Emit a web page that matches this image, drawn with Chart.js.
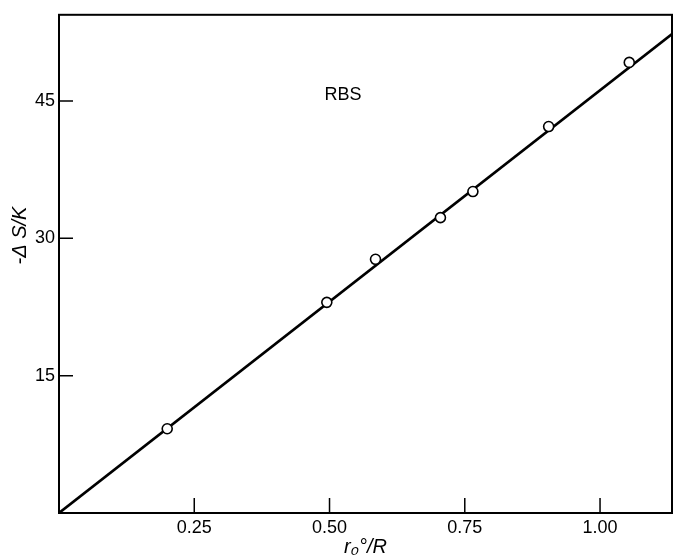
<!DOCTYPE html>
<html>
<head>
<meta charset="utf-8">
<title>RBS</title>
<script src="https://cdn.jsdelivr.net/npm/chart.js@4/dist/chart.umd.min.js"></script>
<style>
    html, body { margin: 0; padding: 0; background: #fff; }
    #wrap { width: 679px; height: 559px; }
</style>
</head>
<body>
<div id="wrap"><canvas id="chart"></canvas></div>
<script>
// Measured points (r0°/R, -ΔS/K)
const ratioValues = [0.20, 0.495, 0.585, 0.705, 0.765, 0.905, 1.054];
const entropyValues = [9.2, 23.0, 27.7, 32.25, 35.1, 42.2, 49.2];

// Fitted straight line through the origin
const fitX = [0, 1.133];
const fitY = [0, 52.3];

// Axis ticks
const xTicks = [0.25, 0.50, 0.75, 1.00];
const xTickLabels = ["0.25", "0.50", "0.75", "1.00"];
const yTicks = [15, 30, 45];
const yTickLabels = ["15", "30", "45"];

const xMax = 1.133;
const yMax = 54.4;

const points = ratioValues.map((x, i) => ({ x: x, y: entropyValues[i] }));
const fitLine = fitX.map((x, i) => ({ x: x, y: fitY[i] }));

const fontFamily = "'Liberation Sans', Arial, sans-serif";

// Frame, inward ticks, y title and the "RBS" note
const framePlugin = {
    id: "frame",
    afterDraw(chart) {
        const ctx = chart.ctx;
        const area = chart.chartArea;
        const xs = chart.scales.x;
        const ys = chart.scales.y;
        ctx.save();
        ctx.strokeStyle = "#000";
        ctx.lineWidth = 2;
        ctx.strokeRect(area.left, area.top, area.right - area.left, area.bottom - area.top);

        ctx.lineWidth = 1.5;
        ctx.beginPath();
        xTicks.forEach(v => {
            const px = xs.getPixelForValue(v);
            ctx.moveTo(px, area.bottom);
            ctx.lineTo(px, area.bottom - 15);
        });
        yTicks.forEach(v => {
            const py = ys.getPixelForValue(v);
            ctx.moveTo(area.left, py);
            ctx.lineTo(area.left + 14, py);
        });
        ctx.stroke();

        ctx.fillStyle = "#000";
        ctx.font = "18px " + fontFamily;
        ctx.textAlign = "center";
        ctx.textBaseline = "middle";
        ctx.fillText("RBS", xs.getPixelForValue(0.525), ys.getPixelForValue(45.6));

        // y axis title, sitting a little above the middle like the original
        ctx.translate(20, ys.getPixelForValue(30.3));
        ctx.rotate(-Math.PI / 2);
        ctx.font = "italic 20px " + fontFamily;
        ctx.fillText("-Δ S/K", 0, 0);
        ctx.restore();
    }
};

const tickFont = { family: fontFamily, size: 18 };

new Chart(document.getElementById("chart"), {
    type: "scatter",
    data: {
        datasets: [{
            type: "line",
            data: fitLine,
            borderColor: "#000",
            borderWidth: 2.6,
            pointRadius: 0,
            tension: 0,
            order: 2
        }, {
            data: points,
            pointRadius: 5,
            pointBorderWidth: 1.6,
            pointBorderColor: "#000",
            pointBackgroundColor: "#fff",
            order: 1
        }]
    },
    options: {
        responsive: true,
        maintainAspectRatio: false,
        animation: false,
        layout: { padding: { top: 12, right: 7, left: 0, bottom: 0 } },
        plugins: {
            legend: { display: false },
            tooltip: { enabled: false }
        },
        scales: {
            x: {
                type: "linear",
                min: 0,
                max: xMax,
                grid: { display: false, drawTicks: false },
                border: { display: false },
                afterBuildTicks: s => { s.ticks = xTicks.map(v => ({ value: v })); },
                afterFit: s => { s.height = 46; },
                ticks: {
                    color: "#000",
                    font: tickFont,
                    padding: 4,
                    maxRotation: 0,
                    callback: v => xTickLabels[xTicks.indexOf(v)]
                },
                title: {
                    display: true,
                    text: "r₀°/R",
                    color: "#000",
                    font: { family: fontFamily, size: 20, style: "italic" },
                    padding: { top: 2, bottom: 0 }
                }
            },
            y: {
                type: "linear",
                min: 0,
                max: yMax,
                grid: { display: false, drawTicks: false },
                border: { display: false },
                afterBuildTicks: s => { s.ticks = yTicks.map(v => ({ value: v })); },
                afterFit: s => { s.width = 59; },
                ticks: {
                    color: "#000",
                    font: tickFont,
                    padding: 4,
                    callback: v => yTickLabels[yTicks.indexOf(v)]
                }
            }
        }
    },
    plugins: [framePlugin]
});
</script>
</body>
</html>
